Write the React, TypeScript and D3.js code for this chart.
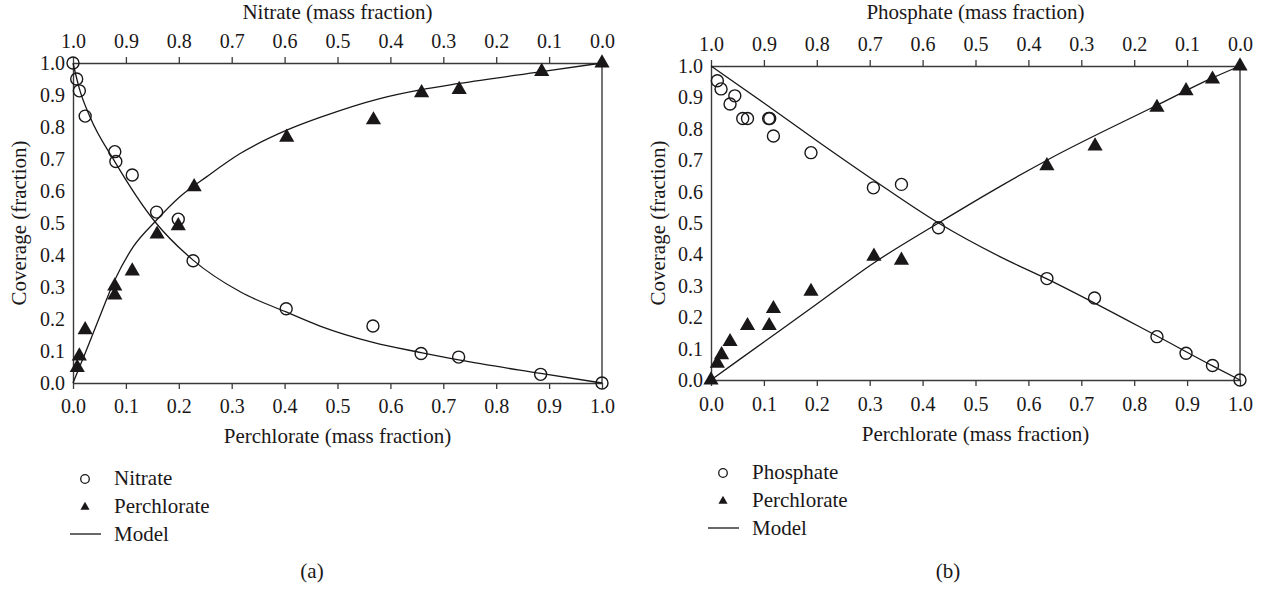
import React, { useEffect, useRef } from 'react';
import * as d3 from 'd3';

type Pt = [number, number];

// (a) nitrate / perchlorate, x = perchlorate mass fraction
const nitrateA: Pt[] = [
  [0, 1.0], [0.007, 0.95], [0.012, 0.913], [0.023, 0.834], [0.079, 0.723],
  [0.081, 0.692], [0.112, 0.65], [0.158, 0.534], [0.199, 0.512], [0.227, 0.382],
  [0.403, 0.232], [0.567, 0.178], [0.658, 0.092], [0.729, 0.081], [0.884, 0.027], [1.0, 0],
];
const perchlorateA: Pt[] = [
  [0.008, 0.048], [0.012, 0.084], [0.023, 0.166], [0.079, 0.275], [0.079, 0.303],
  [0.112, 0.35], [0.159, 0.465], [0.199, 0.491], [0.229, 0.613], [0.404, 0.768],
  [0.568, 0.822], [0.659, 0.907], [0.730, 0.917], [0.886, 0.973], [1.0, 1.0],
];
const nitrateModelA: Pt[] = [
  [0, 1.0], [0.012, 0.92], [0.032, 0.832], [0.079, 0.692], [0.155, 0.504],
  [0.227, 0.384], [0.316, 0.285], [0.403, 0.222], [0.467, 0.178], [0.567, 0.127],
  [0.658, 0.095], [0.729, 0.072], [0.884, 0.03], [1.0, 0],
];
const perchlorateModelA: Pt[] = [
  [0, 0], [0.023, 0.093], [0.048, 0.197], [0.079, 0.322], [0.114, 0.426],
  [0.155, 0.504], [0.202, 0.582], [0.253, 0.645], [0.316, 0.717], [0.404, 0.79],
  [0.467, 0.83], [0.58, 0.889], [0.659, 0.917], [0.73, 0.936], [0.886, 0.973], [1.0, 1.0],
];

// (b) phosphate / perchlorate
const phosphateB: Pt[] = [
  [0.012, 0.953], [0.019, 0.927], [0.045, 0.905], [0.036, 0.879], [0.06, 0.833],
  [0.069, 0.833], [0.109, 0.833], [0.111, 0.833], [0.118, 0.777], [0.189, 0.724],
  [0.307, 0.612], [0.36, 0.623], [0.43, 0.485], [0.635, 0.323], [0.725, 0.261],
  [0.843, 0.138], [0.898, 0.085], [0.948, 0.046], [1.0, 0],
];
const perchlorateB: Pt[] = [
  [0, 0], [0.012, 0.053], [0.02, 0.08], [0.036, 0.122], [0.069, 0.173],
  [0.11, 0.173], [0.118, 0.227], [0.189, 0.282], [0.308, 0.394], [0.36, 0.381],
  [0.635, 0.682], [0.726, 0.745], [0.843, 0.868], [0.898, 0.921], [0.948, 0.958], [1.0, 1.0],
];
const phosphateModelB: Pt[] = [
  [0, 1.0], [0.1, 0.882], [0.2, 0.762], [0.307, 0.637], [0.43, 0.5],
  [0.546, 0.393], [0.635, 0.322], [0.843, 0.14], [0.948, 0.045], [1.0, 0],
];
const perchlorateModelB: Pt[] = [
  [0, 0], [0.1, 0.121], [0.2, 0.242], [0.307, 0.372], [0.43, 0.5],
  [0.546, 0.616], [0.635, 0.7], [0.843, 0.875], [0.948, 0.962], [1.0, 1.0],
];

const tickValues = [0, 0.1, 0.2, 0.3, 0.4, 0.5, 0.6, 0.7, 0.8, 0.9, 1.0];
const legendA = ['Nitrate', 'Perchlorate', 'Model'];
const legendB = ['Phosphate', 'Perchlorate', 'Model'];

const FONT = "'Liberation Serif', 'DejaVu Serif', serif";
const INK = '#1a1718';

interface PanelCfg {
  left: number; top: number; width: number; height: number;
  topTitle: string; bottomTitle: string; yTitle: string;
  circles: Pt[]; triangles: Pt[]; circleModel: Pt[]; triModel: Pt[];
  legend: string[]; legendX: number; legendY: number; legendStep: number;
  label: string; labelX: number;
  topTickY: number; bottomTickY: number; bottomTitleY: number; yTitleX: number;
}

const panels: PanelCfg[] = [
  {
    left: 73, top: 63, width: 529, height: 320,
    topTitle: 'Nitrate (mass fraction)', bottomTitle: 'Perchlorate (mass fraction)', yTitle: 'Coverage (fraction)',
    circles: nitrateA, triangles: perchlorateA, circleModel: nitrateModelA, triModel: perchlorateModelA,
    legend: legendA, legendX: 85, legendY: 479, legendStep: 28,
    label: '(a)', labelX: 312,
    topTickY: -15, bottomTickY: 30, bottomTitleY: 443, yTitleX: 26,
  },
  {
    left: 711, top: 66, width: 529, height: 314,
    topTitle: 'Phosphate (mass fraction)', bottomTitle: 'Perchlorate (mass fraction)', yTitle: 'Coverage (fraction)',
    circles: phosphateB, triangles: perchlorateB, circleModel: phosphateModelB, triModel: perchlorateModelB,
    legend: legendB, legendX: 723, legendY: 473, legendStep: 28,
    label: '(b)', labelX: 948,
    topTickY: -15, bottomTickY: 31, bottomTitleY: 441, yTitleX: 665,
  },
];

function drawPanel(root: d3.Selection<SVGGElement, unknown, null, undefined>, p: PanelCfg) {
  const x = d3.scaleLinear().domain([0, 1]).range([p.left, p.left + p.width]);
  const xTop = d3.scaleLinear().domain([1, 0]).range([p.left, p.left + p.width]);
  const y = d3.scaleLinear().domain([0, 1]).range([p.top + p.height, p.top]);
  const fmt = d3.format('.1f');

  const g = root.append('g');

  // bottom axis
  const gb = g.append('g')
    .attr('transform', `translate(0,${p.top + p.height})`)
    .call(d3.axisBottom(x).tickValues(tickValues).tickFormat(d => fmt(+d)).tickSize(6).tickSizeOuter(0));
  gb.selectAll('text').attr('y', p.bottomTickY).attr('dy', 0);

  // top axis (reversed)
  const gt = g.append('g')
    .attr('transform', `translate(0,${p.top})`)
    .call(d3.axisTop(xTop).tickValues(tickValues).tickFormat(d => fmt(+d)).tickSize(6).tickSizeOuter(0));
  gt.selectAll('text').attr('y', p.topTickY).attr('dy', 0);

  // left axis
  g.append('g')
    .attr('transform', `translate(${p.left},0)`)
    .call(d3.axisLeft(y).tickValues(tickValues).tickFormat(d => fmt(+d)).tickSize(0).tickPadding(8));

  // right border
  g.append('line')
    .attr('x1', p.left + p.width).attr('x2', p.left + p.width)
    .attr('y1', p.top).attr('y2', p.top + p.height)
    .attr('stroke', '#3a3a3a').attr('stroke-width', 1.4);

  g.selectAll('.domain').attr('stroke', '#3a3a3a').attr('stroke-width', 1.4);
  g.selectAll('.tick line').attr('stroke', '#3a3a3a').attr('stroke-width', 1.3);
  g.selectAll('g').attr('font-family', null).attr('font-size', null);
  g.selectAll('.tick text').style('font-family', FONT).style('font-size', '20px').attr('fill', INK);

  // titles
  const cx = p.left + p.width / 2;
  const txt = (sel: any) => sel.style('font-family', FONT).style('font-size', '21px').attr('fill', INK);
  g.append('text').attr('x', cx).attr('y', 19).attr('text-anchor', 'middle')
    .call(txt).text(p.topTitle);
  g.append('text').attr('x', cx).attr('y', p.bottomTitleY).attr('text-anchor', 'middle')
    .call(txt).text(p.bottomTitle);
  const yc = p.top + p.height / 2;
  g.append('text').attr('transform', `translate(${p.yTitleX},${yc}) rotate(-90)`)
    .attr('text-anchor', 'middle')
    .call(txt).text(p.yTitle);

  // model curves
  const line = d3.line<Pt>().x(d => x(d[0])).y(d => y(d[1])).curve(d3.curveMonotoneX);
  [p.circleModel, p.triModel].forEach(m => {
    g.append('path').attr('d', line(m)).attr('fill', 'none')
      .attr('stroke', INK).attr('stroke-width', 1.3);
  });

  // markers
  const tri = d3.symbol().type(d3.symbolTriangle).size(100);
  g.selectAll('.tri').data(p.triangles).join('path')
    .attr('class', 'tri')
    .attr('transform', d => `translate(${x(d[0])},${y(d[1])})`)
    .attr('d', tri()).attr('fill', INK);

  g.selectAll('.circ').data(p.circles).join('circle')
    .attr('class', 'circ')
    .attr('cx', d => x(d[0])).attr('cy', d => y(d[1])).attr('r', 6)
    .attr('fill', 'none').attr('stroke', INK).attr('stroke-width', 1.4);

  // legend
  const lg = g.append('g');
  lg.append('circle').attr('cx', p.legendX).attr('cy', p.legendY).attr('r', 4.3)
    .attr('fill', 'none').attr('stroke', INK).attr('stroke-width', 1.3);
  lg.append('path')
    .attr('transform', `translate(${p.legendX},${p.legendY + p.legendStep})`)
    .attr('d', d3.symbol().type(d3.symbolTriangle).size(36)()).attr('fill', INK);
  lg.append('line')
    .attr('x1', p.legendX - 15).attr('x2', p.legendX + 16)
    .attr('y1', p.legendY + p.legendStep * 2 - 1).attr('y2', p.legendY + p.legendStep * 2 - 1)
    .attr('stroke', INK).attr('stroke-width', 1.3);
  p.legend.forEach((t, i) => {
    lg.append('text').attr('x', p.legendX + 29).attr('y', p.legendY + i * p.legendStep + 6)
      .call(txt).text(t);
  });

  g.append('text').attr('x', p.labelX).attr('y', 578).attr('text-anchor', 'middle')
    .call(txt).text(p.label);
}

const App = () => {
  const gRef = useRef<SVGGElement>(null);

  useEffect(() => {
    const root = d3.select(gRef.current);
    root.selectAll('*').remove();
    panels.forEach(p => drawPanel(root as any, p));
  }, []);

  return (
    <div style={{ position: 'absolute', left: 0, top: 0 }}>
      <svg width={1268} height={594} style={{ display: 'block', background: '#fff' }}>
        <g ref={gRef} />
      </svg>
    </div>
  );
};

export default App;
